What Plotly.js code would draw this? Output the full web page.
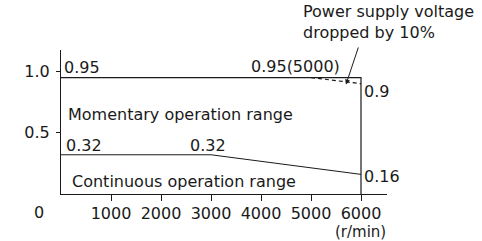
<!DOCTYPE html>
<html>
<head>
<meta charset="utf-8">
<script src="https://cdn.plot.ly/plotly-3.0.1.min.js"></script>
<style>html,body{margin:0;padding:0;background:#fff;}#chart{width:482px;height:241px;}</style>
</head>
<body>
<div id="chart"></div>
<script>
// Data (speed in r/min, torque)
const momSpeed = [0, 5000, 6000, 6000];
const momTorque = [0.95, 0.95, 0.95, 0];
const dropSpeed = [5000, 6000];
const dropTorque = [0.95, 0.9];
const contSpeed = [0, 3000, 6000];
const contTorque = [0.32, 0.32, 0.16];
const xTickVals = [1000, 2000, 3000, 4000, 5000, 6000];
const xTickText = ['1000', '2000', '3000', '4000', '5000', '6000'];
const yTickVals = [0.5, 1.0];
const yTickText = ['0.5', '1.0'];
const momLabel = 'Momentary operation range';
const contLabel = 'Continuous operation range';
const noteText = 'Power supply voltage<br>dropped by 10%';
const unitText = '(r/min)';
const originText = '0';

const FONT = 'DejaVu Sans';
const FS = 16;
const INK = '#1a1a1a';

const traces = [
  {x: momSpeed, y: momTorque, mode: 'lines', line: {color: INK, width: 1.2}, cliponaxis: false, hoverinfo: 'skip'},
  {x: dropSpeed, y: dropTorque, mode: 'lines', line: {color: INK, width: 1.2, dash: '4px,3px'}, cliponaxis: false, hoverinfo: 'skip'},
  {x: contSpeed, y: contTorque, mode: 'lines', line: {color: INK, width: 1}, cliponaxis: false, hoverinfo: 'skip'}
];

function lab(text, x, y, xanchor, extra) {
  return Object.assign({text: text, x: x, y: y, xref: 'x', yref: 'y', xanchor: xanchor, yanchor: 'middle',
    showarrow: false, font: {family: FONT, size: FS, color: INK}}, extra || {});
}

const annotations = [
  lab(momTorque[0].toFixed(2), momSpeed[0], 1.03, 'left', {xshift: 1}),
  lab(momTorque[1].toFixed(2) + '(' + momSpeed[1] + ')', 4680, 1.04, 'center'),
  lab(String(dropTorque[1]), dropSpeed[1], 0.84, 'left', {xshift: 1}),
  lab(momLabel, 0, 0.65, 'left', {xshift: 5}),
  lab(contTorque[0].toFixed(2), contSpeed[0], 0.395, 'left', {xshift: 3}),
  lab(contTorque[1].toFixed(2), 2930, 0.395, 'center'),
  lab(contLabel, 0, 0.105, 'left', {xshift: 9}),
  lab(String(contTorque[2]), contSpeed[2], 0.145, 'left', {xshift: 1}),
  lab(originText, -0.069, -0.13, 'center', {xref: 'paper', yref: 'paper'}),
  lab(unitText, 0.920, -0.262, 'center', {xref: 'paper', yref: 'paper', borderpad: 0, font: {family: FONT, size: 15, color: INK}}),
  lab(noteText, 0.735, 1.35, 'left', {xref: 'paper', yref: 'paper', yanchor: 'top', align: 'left'}),
  {text: ' ', x: 5700, y: 0.894, xref: 'x', yref: 'y', showarrow: true, ax: 13, ay: -39,
   arrowhead: 2, arrowsize: 1, arrowwidth: 1, arrowcolor: INK, font: {size: 1}}
];

const layout = {
  width: 482, height: 241,
  margin: {l: 61, r: 95, t: 50, b: 47},
  paper_bgcolor: '#fff', plot_bgcolor: '#fff',
  showlegend: false,
  font: {family: FONT, size: FS, color: INK},
  xaxis: {range: [0, 6520], showgrid: false, zeroline: false, showline: true, linecolor: INK, linewidth: 1,
    ticks: 'outside', ticklen: 6, tickwidth: 1, tickcolor: INK, tickvals: xTickVals, ticktext: xTickText,
    tickfont: {family: FONT, size: FS, color: INK}, ticklabelstandoff: -1, fixedrange: true},
  yaxis: {range: [0, 1.175], showgrid: false, zeroline: false, showline: true, linecolor: INK, linewidth: 1,
    ticks: 'outside', ticklen: 4, tickwidth: 1, tickcolor: INK, tickvals: yTickVals, ticktext: yTickText,
    tickfont: {family: FONT, size: FS, color: INK}, ticklabelstandoff: 3, fixedrange: true},
  annotations: annotations
};

Plotly.newPlot('chart', traces, layout, {displayModeBar: false, staticPlot: true});
</script>
</body>
</html>
